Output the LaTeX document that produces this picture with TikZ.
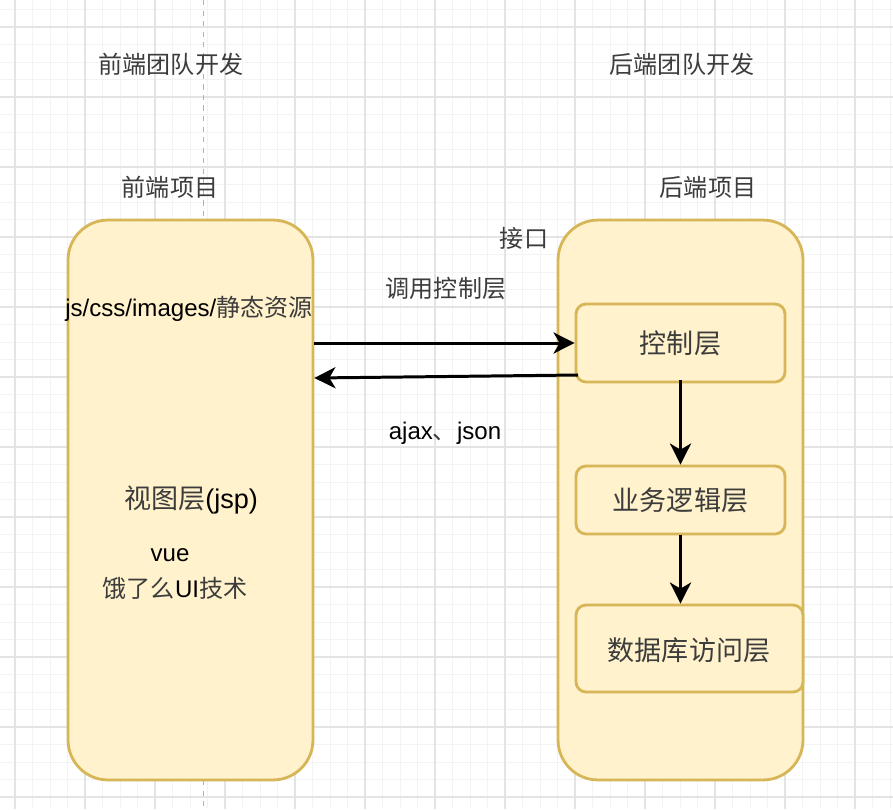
\documentclass[tikz,border=0pt]{standalone}
\usepackage{fontspec}
\setmainfont{Liberation Sans}
\newfontfamily\cjk{Noto Sans CJK SC}
\usepackage{tikz}
\usetikzlibrary{arrows.meta}
\definecolor{boxfill}{HTML}{FFF2CC}
\definecolor{boxline}{HTML}{D6B656}
\definecolor{gridminor}{HTML}{F3F3F3}
\definecolor{gridmajor}{HTML}{E4E4E4}
\definecolor{textgray}{HTML}{3C3C3C}
\newcommand{\zh}[1]{{\cjk\color{textgray}#1}}

\tikzset{
  bigbox/.style={draw=boxline, fill=boxfill, line width=1.6pt, rounded corners=0.8cm,
    minimum width=4.9cm, minimum height=11.2cm},
  layerbox/.style={draw=boxline, fill=boxfill, line width=1.6pt, rounded corners=0.2cm,
    minimum width=4.18cm},
  lbl/.style={inner sep=0pt, font=\fontsize{13.7}{16}\selectfont},
  biglbl/.style={inner sep=0pt, font=\fontsize{15.4}{18}\selectfont},
  flow/.style={-{Stealth[length=12pt,width=12pt,inset=3.5pt]}, line width=1.7pt},
}

\begin{document}
\begin{tikzpicture}[x=0.02cm, y=-0.02cm]

			% FOND + GRILLE
			\useasboundingbox (0,0) rectangle (893,809);
			\fill[white] (0,0) rectangle (893,809);
			\foreach \gx in {-2.5,15,...,900} \draw[gridminor, line width=0.5pt] (\gx,0) -- (\gx,809);
			\foreach \gy in {9.5,27,...,815} \draw[gridminor, line width=0.5pt] (0,\gy) -- (893,\gy);
			\foreach \gx in {15,85,...,893} \draw[gridmajor, line width=0.6pt] (\gx,0) -- (\gx,809);
			\foreach \gy in {27,97,...,809} \draw[gridmajor, line width=0.6pt] (0,\gy) -- (893,\gy);
			\draw[gray!60, dashed, line width=0.5pt] (203,0) -- (203,809);

			% TITRES
			\node[lbl] (teamfront) at (171,64) {\zh{前端团队开发}};
			\node[lbl] (teamback) at (682,64) {\zh{后端团队开发}};
			\node[lbl] (projfront) at (170,187) {\zh{前端项目}};
			\node[lbl] (projback) at (708,187) {\zh{后端项目}};

			% PROJET FRONT
			\node[bigbox] (front) at (190.5,500) {};
			\node[lbl] (assets) at (189,309) {js/css/images/\zh{静态资源}};
			\node[biglbl] (view) at (191,500) {\zh{视图层}(jsp)};
			\node[lbl] (vue) at (170,555) {vue};
			\node[lbl] (eleme) at (175,588) {\zh{饿了么}UI\zh{技术}};

			% PROJET BACK
			\node[bigbox] (back) at (680.5,500) {};
			\node[layerbox, minimum height=1.56cm] (ctrl) at (680.5,343) {};
			\node[biglbl] at (ctrl) {\zh{控制层}};
			\node[layerbox, minimum height=1.36cm] (biz) at (680.5,500) {};
			\node[biglbl] at (biz) {\zh{业务逻辑层}};
			\node[layerbox, minimum width=4.54cm, minimum height=1.74cm] (dao) at (689.5,648.5) {};
			\node[biglbl] at (689,650) {\zh{数据库访问层}};

			% INTERFACE
			\node[lbl] (iface) at (524,238) {\zh{接口}};
			\node[lbl] (call) at (446,288) {\zh{调用控制层}};
			\node[lbl] (ajax) at (445,433) {ajax\zh{、}json};

			% FLECHES
			\coordinate (retstart) at (578,375);
			\coordinate (retend) at (313,378);
			\draw[flow] (front.east |- ctrl.west) -- (ctrl.west);
			\draw[flow] (retstart) -- (front.east |- retend);
			\draw[flow] ([yshift=2pt]ctrl.south) -- (biz.north);
			\draw[flow] (biz.south) -- (dao.north -| biz.south);

\end{tikzpicture}
\end{document}
